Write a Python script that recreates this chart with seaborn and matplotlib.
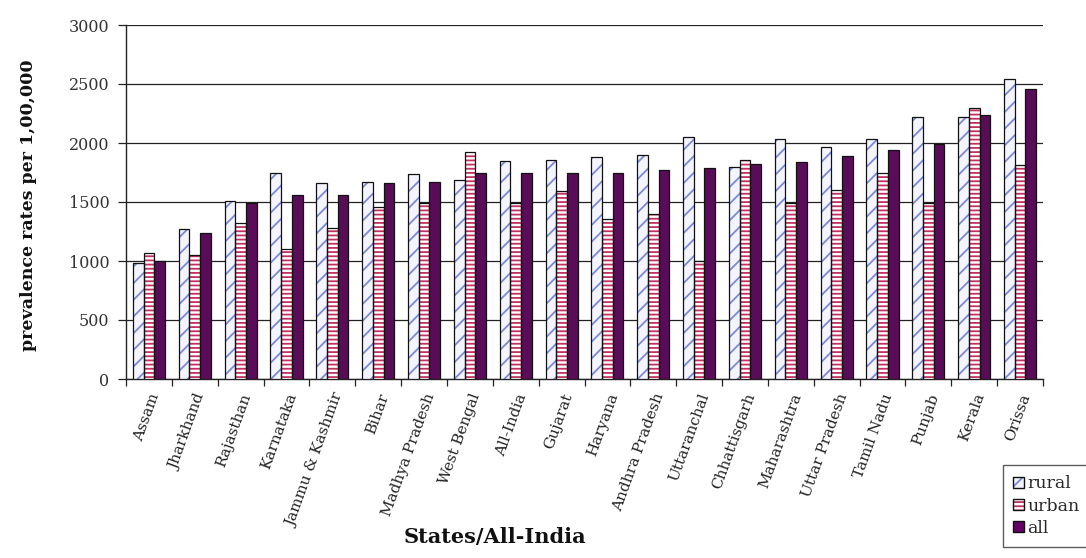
import matplotlib
matplotlib.use("Agg")
import matplotlib.pyplot as plt
from matplotlib.patches import Patch, Rectangle
import numpy as np
import pandas as pd
import seaborn as sns

states = ["Assam", "Jharkhand", "Rajasthan", "Karnataka", "Jammu & Kashmir",
          "Bihar", "Madhya Pradesh", "West Bengal", "All-India", "Gujarat",
          "Haryana", "Andhra Pradesh", "Uttaranchal", "Chhattisgarh",
          "Maharashtra", "Uttar Pradesh", "Tamil Nadu", "Punjab", "Kerala",
          "Orissa"]
rural = [985, 1270, 1510, 1750, 1660, 1670, 1740, 1690, 1850, 1860,
         1880, 1900, 2050, 1800, 2030, 1970, 2030, 2220, 2220, 2540]
urban = [1070, 1050, 1320, 1100, 1280, 1460, 1490, 1920, 1490, 1590,
         1360, 1400, 1000, 1860, 1490, 1600, 1750, 1490, 2300, 1810]
total = [1000, 1240, 1490, 1560, 1560, 1660, 1670, 1750, 1750, 1750,
         1750, 1770, 1790, 1820, 1840, 1890, 1940, 1990, 2240, 2460]
areas = ["rural", "urban", "all"]
y_ticks = [0, 500, 1000, 1500, 2000, 2500, 3000]

df = pd.DataFrame({
    "state": states * 3,
    "area": sum([[a] * len(states) for a in areas], []),
    "rate": rural + urban + total,
})

sns.set_style("white")
plt.rcParams["font.family"] = ["DejaVu Serif"]
plt.rcParams["hatch.linewidth"] = 1.3

faces = {"rural": "#f3f3ff", "urban": "#ffffff", "all": "#660066"}
hatch_col = {"rural": "#7a8ad8", "urban": "#c23060", "all": "#660066"}
hatches = {"rural": "//", "urban": "----", "all": ""}

fig = plt.figure(figsize=(10.86, 5.58), dpi=100)
ax = fig.add_axes([126 / 1086, 179 / 558, 917 / 1086, 354 / 558])

sns.barplot(data=df, x="state", y="rate", hue="area", hue_order=areas,
            order=states, palette=faces, width=0.70, legend=False, ax=ax,
            zorder=3)

for area, cont in zip(areas, ax.containers):
    for bar in cont:
        bar.set_hatch(hatches[area])
        bar.set_edgecolor(hatch_col[area])
        bar.set_linewidth(0)
        ax.add_patch(Rectangle(bar.get_xy(), bar.get_width(), bar.get_height(),
                               fill=False, edgecolor="#111111", linewidth=0.9,
                               zorder=4))

ax.set_ylim(0, 3000)
ax.set_xlim(-0.5, len(states) - 0.5)
ax.set_yticks(y_ticks)
ax.set_yticklabels([str(v) for v in y_ticks], fontsize=11.5, color="#333333")
ax.yaxis.grid(True, color="#222222", linewidth=0.9, zorder=0)
ax.set_axisbelow(True)

ax.set_xticks(range(len(states)))
ax.set_xticklabels(states, rotation=70, ha="right", rotation_mode="anchor",
                   fontsize=11, color="#222222")
ax.set_xticks(np.arange(-0.5, len(states), 1.0), minor=True)
ax.tick_params(axis="x", which="major", length=0, pad=9)
ax.tick_params(axis="x", which="minor", length=5, width=0.9, color="#222222",
               direction="out", bottom=True)
ax.tick_params(axis="y", length=6, width=0.9, color="#222222", direction="out",
               left=True, pad=6)

for side in ["top", "right"]:
    ax.spines[side].set_visible(False)
for side in ["left", "bottom"]:
    ax.spines[side].set_color("#222222")
    ax.spines[side].set_linewidth(1.0)

ax.set_ylabel("prevalence rates per 1,00,000", fontsize=12.5,
              fontweight="bold", color="#111111")
ax.yaxis.set_label_coords(-0.097, 0.49)
ax.set_xlabel("States/All-India", fontsize=15, fontweight="bold",
              color="#111111")
ax.xaxis.set_label_coords(0.402, -0.418)

handles = [(Patch(facecolor=faces[a], edgecolor=hatch_col[a], hatch=hatches[a],
                  linewidth=0),
            Patch(fill=False, edgecolor="#111111", linewidth=1.0))
           for a in areas]
leg = fig.legend(handles, ["rural", "urban", "all"], loc="upper left",
                 bbox_to_anchor=(1003 / 1086, 1 - 465 / 558),
                 frameon=True, fancybox=False, edgecolor="#333333",
                 fontsize=12.5, handlelength=0.6, handleheight=0.6,
                 handletextpad=0.2, labelspacing=0.3, borderpad=0.6,
                 borderaxespad=0)
leg.get_frame().set_linewidth(1.0)

fig.savefig("out.png", dpi=100, facecolor="white")
